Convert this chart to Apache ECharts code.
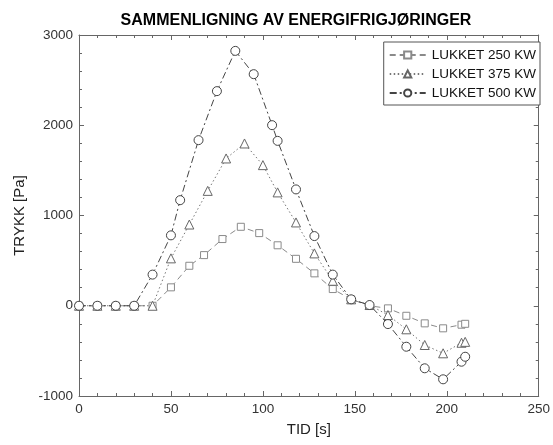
<!DOCTYPE html>
<html><head><meta charset="utf-8">
<script src="https://cdn.jsdelivr.net/npm/echarts@6/dist/echarts.min.js"></script>
<style>html,body{margin:0;padding:0;background:#fff}#c{width:553px;height:445px}</style>
</head><body><div id="c"></div>
<script>
const title = "SAMMENLIGNING AV ENERGIFRIGJØRINGER";
const xName = "TID [s]";
const yName = "TRYKK [Pa]";
const seriesNames = ["LUKKET 250 KW", "LUKKET 375 KW", "LUKKET 500 KW"];
const xTicks = [0, 50, 100, 150, 200, 250];
const yTicks = [-1000, 0, 1000, 2000, 3000];

const t250 = [0,10,20,30,40,50,60,68,78,88,98,108,118,128,138,148,158,168,178,188,198,208,210];
const v250 = [0,0,0,0,0,204,443,561,739,875,805,670,520,359,185,71,0,-29,-111,-195,-250,-210,-200];
const t375 = [0,10,20,30,40,50,60,70,80,90,100,108,118,128,138,148,158,168,178,188,198,208,210];
const v375 = [0,0,0,0,0,525,900,1273,1632,1798,1558,1256,923,580,277,71,8,-103,-261,-435,-527,-410,-400];
const t500 = [0,10,20,30,40,50,55,65,75,85,95,105,108,118,128,138,148,158,168,178,188,198,208,210];
const v500 = [0,0,0,0,345,780,1170,1835,2378,2824,2566,2001,1827,1289,772,345,71,8,-203,-454,-693,-815,-620,-565];

const zip = (a, b) => a.map((x, i) => [x, b[i]]);
const font = "Liberation Sans, Arial, sans-serif";
const frame = '#666';

const chart = echarts.init(document.getElementById('c'));
const axisCommon = {
  type: 'value',
  axisLine: { show: true, onZero: false, lineStyle: { color: frame, width: 1 } },
  axisTick: { show: true, inside: true, length: 5, lineStyle: { color: frame } },
  minorTick: { show: true, splitNumber: 5, length: 3, lineStyle: { color: frame } },
  splitLine: { show: false },
};
chart.setOption({
  animation: false,
  backgroundColor: '#fff',
  title: {
    text: title, left: 291, top: 8, textAlign: 'center',
    textStyle: { fontFamily: font, fontSize: 16, fontWeight: 'bold', color: '#000' }
  },
  grid: { left: 79, right: 12, top: 35, bottom: 49 },
  legend: {
    orient: 'vertical', right: 13, top: 42,
    data: seriesNames,
    itemWidth: 36, itemHeight: 9, itemGap: 5,
    padding: [6, 4, 5, 5],
    borderColor: '#555', borderWidth: 1, backgroundColor: '#fff',
    textStyle: { fontFamily: font, fontSize: 13.5, color: '#111', padding: [0, 0, 0, 1] }
  },
  xAxis: [
    Object.assign({}, axisCommon, {
      min: 0, max: 250, interval: 50,
      name: xName, nameLocation: 'middle', nameGap: 26,
      nameTextStyle: { fontFamily: font, fontSize: 15, color: '#222' },
      axisLabel: { fontFamily: font, fontSize: 13.5, color: '#333', margin: 6,
        formatter: v => xTicks.includes(v) ? String(v) : '' }
    }),
    Object.assign({}, axisCommon, {
      min: 0, max: 250, interval: 50, position: 'top', axisLabel: { show: false }
    })
  ],
  yAxis: [
    Object.assign({}, axisCommon, {
      min: -1000, max: 3000, interval: 1000,
      name: yName, nameLocation: 'middle', nameGap: 47,
      nameTextStyle: { fontFamily: font, fontSize: 15, color: '#222' },
      axisLabel: { fontFamily: font, fontSize: 13.5, color: '#333', margin: 6,
        formatter: v => yTicks.includes(v) ? String(v) : '' }
    }),
    Object.assign({}, axisCommon, {
      min: -1000, max: 3000, interval: 1000, position: 'right', axisLabel: { show: false }
    })
  ],
  series: [
    {
      name: seriesNames[0], type: 'line', data: zip(t250, v250),
      symbol: 'rect', symbolSize: 7, showAllSymbol: true,
      lineStyle: { color: '#8a8a8a', width: 1, type: [6, 4] },
      itemStyle: { color: '#fff', borderColor: '#8a8a8a', borderWidth: 1 }
    },
    {
      name: seriesNames[1], type: 'line', data: zip(t375, v375),
      symbol: 'triangle', symbolSize: 9, showAllSymbol: true,
      lineStyle: { color: '#777', width: 1, type: [1.5, 2.5] },
      itemStyle: { color: '#fff', borderColor: '#666', borderWidth: 1 }
    },
    {
      name: seriesNames[2], type: 'line', data: zip(t500, v500),
      symbol: 'circle', symbolSize: 9, showAllSymbol: true,
      lineStyle: { color: '#444', width: 1, type: [7, 3, 2, 3] },
      itemStyle: { color: '#fff', borderColor: '#444', borderWidth: 1 }
    }
  ]
});
</script></body></html>
